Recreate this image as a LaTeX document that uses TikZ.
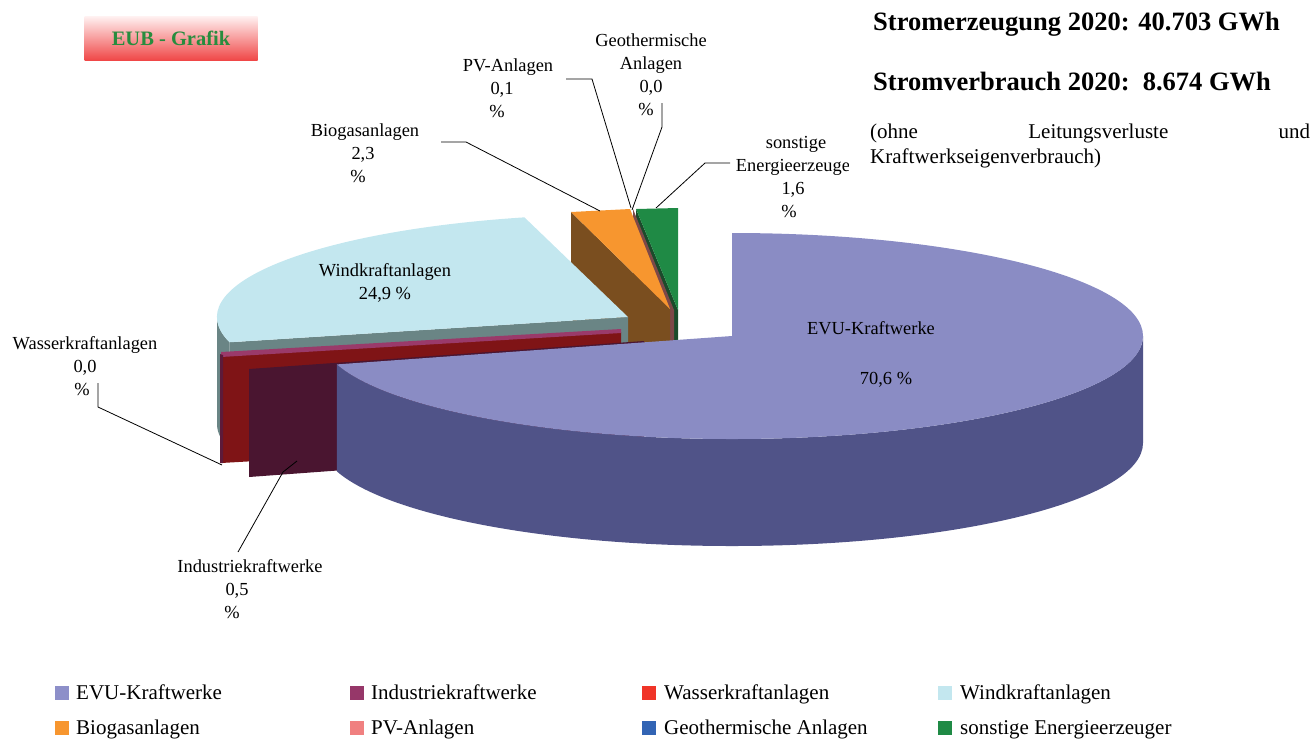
\documentclass[tikz,border=0pt]{standalone}
\usepackage{fontspec}
\setmainfont{Liberation Serif}
\usetikzlibrary{calc}
\definecolor{evutop}{RGB}{138,140,196}
\definecolor{evuside}{RGB}{80,83,136}
\definecolor{windtop}{RGB}{195,231,239}
\definecolor{windside}{RGB}{106,133,133}
\definecolor{wasserface}{RGB}{127,20,22}
\definecolor{wasserrand}{RGB}{154,58,106}
\definecolor{wasserkante}{RGB}{92,26,58}
\definecolor{indface}{RGB}{74,21,48}
\definecolor{biotop}{RGB}{247,150,47}
\definecolor{bioface}{RGB}{122,78,31}
\definecolor{pvface}{RGB}{125,72,72}
\definecolor{sonsttop}{RGB}{31,138,69}
\definecolor{sonstface}{RGB}{27,75,43}
\definecolor{legevu}{RGB}{141,143,201}
\definecolor{legind}{RGB}{150,55,105}
\definecolor{legwasser}{RGB}{240,52,40}
\definecolor{legpv}{RGB}{240,128,128}
\definecolor{leggeo}{RGB}{50,100,180}
\definecolor{eubtop}{RGB}{255,242,242}
\definecolor{eubbot}{RGB}{240,72,72}
\definecolor{eubgreen}{RGB}{40,140,62}
\newcommand{\lueckeR}[1]{\rule{#1}{0pt}}

\begin{document}
\begin{tikzpicture}[x=1pt,y=-1pt,
    lbl/.style={font=\fontsize{18.4}{23}\selectfont,align=center,inner sep=0pt,anchor=base},
    leader/.style={line width=0.8pt},
    legkey/.style={minimum size=14pt,inner sep=0pt},
    legtxt/.style={font=\fontsize{21}{24}\selectfont,inner sep=0pt,anchor=base west},
    titel/.style={font=\bfseries\fontsize{26.5}{30}\selectfont,inner sep=0pt,anchor=base west}]
  \useasboundingbox (0,0) rectangle (1313,740);

  % Box EUB - Grafik
  \node[minimum width=173pt,minimum height=44pt,inner sep=0pt,top color=eubtop,bottom color=eubbot,
        text=eubgreen,font=\bfseries\fontsize{20.5}{24}\selectfont] (eub) at (171,38) {EUB - Grafik};

  % Centres of the slices
  \coordinate (evuC) at (732,336);
  \coordinate (windC) at (628,317);

  % Slice sonstige Energieerzeuger
  \fill[sonstface] (678,310) -- (636,209) -- (636,316) -- (678,417) -- cycle;
  \fill[sonsttop] (678,310) -- (636,209) -- (678,208) -- cycle;

  % Slice PV-Anlagen
  \fill[pvface] (674,310) -- (633,209) -- (633,316) -- (674,417) -- cycle;

  % Slice Biogasanlagen
  \fill[bioface] (571,212) -- (670,309) -- (670,416) -- (571,319) -- cycle;
  \fill[biotop] (670,309) -- (571,212) -- (630,209) -- cycle;

  % Slice Windkraftanlagen
  \fill[windside] (windC) ++(-180:411 and 103) arc[start angle=-180,end angle=-194.2,x radius=411,y radius=103]
    -- ++(0,107) arc[start angle=-194.2,end angle=-180,x radius=411,y radius=103] -- cycle;
  \fill[windside] (windC) -- ++(-194.2:411 and 103) -- ++(0,107) -- ($(windC)+(0,107)$) -- cycle;
  \fill[windtop] (windC) -- ++(-104.6:411 and 103)
    arc[start angle=-104.6,end angle=-194.2,x radius=411,y radius=103] -- cycle;

  % Slice Wasserkraftanlagen
  \fill[wasserface] (221,356) -- (621,332) -- (621,440) -- (221,463) -- cycle;
  \fill[wasserrand] (221,352) -- (621,329) -- (621,333) -- (221,357) -- cycle;
  \fill[wasserkante] (220,354) -- (223,355) -- (223,463) -- (220,463) -- cycle;

  % Slice Industriekraftwerke
  \fill[indface] (249,369) -- (644,341) -- (644,448) -- (249,477) -- cycle;

  % Slice EVU-Kraftwerke
  \fill[evuside] (evuC) ++(164:411 and 103) arc[start angle=164,end angle=0,x radius=411,y radius=103]
    -- ++(0,107) arc[start angle=0,end angle=164,x radius=411,y radius=103] -- cycle;
  \fill[evutop] (evuC) -- ++(0,-103) arc[start angle=-90,end angle=164,x radius=411,y radius=103] -- cycle;

  % Data labels (base = last line)
  \node[lbl] (evu) at (871,334) {EVU-Kraftwerke};
  \node[lbl] (evuwert) at (886,384) {70,6 \%};
  \node[lbl] (wind) at (385,299) {Windkraftanlagen\\24,9 \%};
  \node[lbl] (geo) at (651,115) {Geothermische\\Anlagen\\0,0\\\%\lueckeR{10pt}};
  \node[lbl] (pv) at (508,117) {PV-Anlagen\\0,1\lueckeR{12pt}\\\%\lueckeR{22pt}};
  \node[lbl] (bio) at (365,182) {Biogasanlagen\\2,3\lueckeR{4pt}\\\%\lueckeR{14pt}};
  \begin{scope}
    \clip (700,120) rectangle (848,240);
    \node[lbl] (sonst) at (796,217) {sonstige\\Energieerzeuger\\1,6\lueckeR{6pt}\\\%\lueckeR{14pt}};
  \end{scope}
  \node[lbl] (wasser) at (85,395) {Wasserkraftanlagen\\0,0\\\%\lueckeR{6pt}};
  \node[lbl] (ind) at (250,618) {Industriekraftwerke\\0,5\lueckeR{26pt}\\\%\lueckeR{36pt}};

  % Leader lines
  \coordinate (geoL) at (662,103);  \coordinate (geoT) at (632,210);
  \coordinate (pvL) at (566,79);    \coordinate (pvT) at (631,208);
  \coordinate (bioL) at (441,142);  \coordinate (bioT) at (600,211);
  \coordinate (sonL) at (730,163);  \coordinate (sonT) at (656,208);
  \coordinate (wasL) at (98,383);   \coordinate (wasT) at (222,465);
  \coordinate (indL) at (238,552);  \coordinate (indT) at (297,461);
  \draw[leader] (geoL) -- ++(0,24) -- (geoT);
  \draw[leader] (pvL) -- ++(26,0) -- (pvT);
  \draw[leader] (bioL) -- ++(25,0) -- (bioT);
  \draw[leader] (sonL) -- ++(-25,0) -- (sonT);
  \draw[leader] (wasL) -- ++(0,24) -- (wasT);
  \draw[leader] (indL) -- ++(45,-80) -- (indT);

  % Titles
  \node[titel] (erzeugung) at (873,30) {Stromerzeugung 2020: 40.703 GWh};
  \node[titel] (verbrauch) at (873,90) {Stromverbrauch 2020:\ \ 8.674 GWh};
  \node[text width=440pt,align=left,inner sep=0pt,anchor=base west,font=\fontsize{21}{25}\selectfont] (hinweis)
    at (870,138) {(ohne\hfill Leitungsverluste\hfill und\\Kraftwerkseigenverbrauch)};

  % Legend
  \node[legkey,fill=legevu] (kevu) at (62,693) {};
  \node[legtxt] (tevu) at (76,699) {EVU-Kraftwerke};
  \node[legkey,fill=legind] (kind) at (357,693) {};
  \node[legtxt] (tind) at (371,699) {Industriekraftwerke};
  \node[legkey,fill=legwasser] (kwasser) at (649,693) {};
  \node[legtxt] (twasser) at (664,699) {Wasserkraftanlagen};
  \node[legkey,fill=windtop] (kwind) at (945,693) {};
  \node[legtxt] (twind) at (960,699) {Windkraftanlagen};
  \node[legkey,fill=biotop] (kbio) at (62,728) {};
  \node[legtxt] (tbio) at (76,734) {Biogasanlagen};
  \node[legkey,fill=legpv] (kpv) at (357,728) {};
  \node[legtxt] (tpv) at (371,734) {PV-Anlagen};
  \node[legkey,fill=leggeo] (kgeo) at (649,728) {};
  \node[legtxt] (tgeo) at (664,734) {Geothermische Anlagen};
  \node[legkey,fill=sonsttop] (ksonst) at (945,728) {};
  \node[legtxt] (tsonst) at (960,734) {sonstige Energieerzeuger};
\end{tikzpicture}
\end{document}
